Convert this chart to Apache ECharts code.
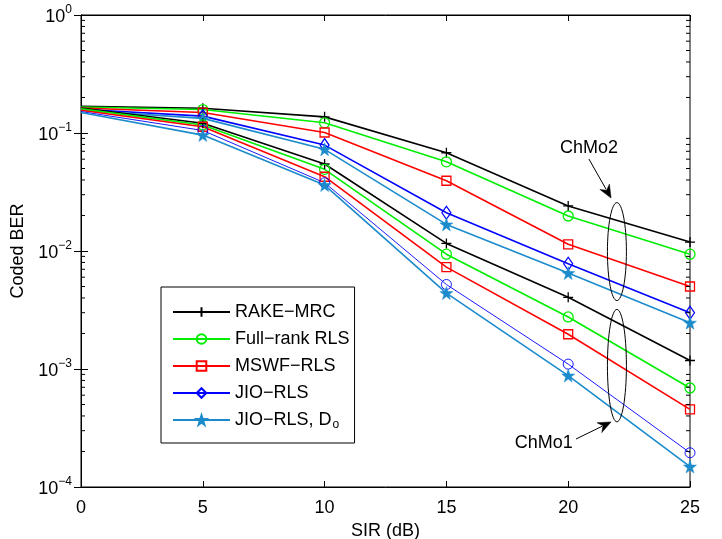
<!DOCTYPE html>
<html>
<head>
<meta charset="utf-8">
<script src="https://cdn.jsdelivr.net/npm/echarts@6/dist/echarts.min.js"></script>
<style>
html,body{margin:0;padding:0;background:#fff;}
#chart{width:722px;height:539px;}
</style>
</head>
<body>
<div id="chart"></div>
<script>
// ---- data ----
var sirDb = [0, 5, 10, 15, 20, 25];
var xTicks = [0, 5, 10, 15, 20, 25];
var yTickExponents = [0, -1, -2, -3, -4];

var seriesNames = ['RAKE\u2212MRC', 'Full\u2212rank RLS', 'MSWF\u2212RLS', 'JIO\u2212RLS', 'JIO\u2212RLS, D'];

// ChMo2 group
var rakeMrcChMo2  = [0.168, 0.162, 0.137, 0.068, 0.0241, 0.0119];
var fullRankChMo2 = [0.166, 0.158, 0.122, 0.057, 0.0198, 0.0094];
var mswfChMo2     = [0.163, 0.149, 0.101, 0.0394, 0.0114, 0.0050];
var jioChMo2      = [0.159, 0.139, 0.079, 0.0211, 0.0078, 0.0030];
var jioDoChMo2    = [0.156, 0.133, 0.0727, 0.0168, 0.0065, 0.00247];
// ChMo1 group
var rakeMrcChMo1  = [0.163, 0.121, 0.0546, 0.0116, 0.00405, 0.00118];
var fullRankChMo1 = [0.160, 0.117, 0.0492, 0.0094, 0.00276, 0.00069];
var mswfChMo1     = [0.156, 0.113, 0.0426, 0.0073, 0.00197, 0.000455];
var jioChMo1      = [0.152, 0.105, 0.0379, 0.0052, 0.0011, 0.000195];
var jioDoChMo1    = [0.149, 0.096, 0.0362, 0.0044, 0.00088, 0.000149];

// annotation anchors (data space)
var ellipseChMo2 = {x: 22, yTop: 0.0257, yBottom: 0.0038};
var ellipseChMo1 = {x: 22, yTop: 0.0032, yBottom: 0.000357};
var labelChMo2 = {text: 'ChMo2', x: 20.85, y: 0.0746};
var arrowChMo2 = {from: [20.85, 0.0602], to: [21.76, 0.0281]};
var labelChMo1 = {text: 'ChMo1', x: 19.0, y: 0.000235};
var arrowChMo1 = {from: [20.32, 0.000255], to: [21.76, 0.000356]};

// ---- styles ----
var FONT = 'Liberation Sans, Arial, Helvetica, sans-serif';
var FS = 18;
var C_BLACK = '#000000', C_GREEN = '#00ee00', C_RED = '#ff0000', C_BLUE = '#0000ff', C_STAR = '#1b8bcc';
var PLUS = 'path://M5,0L5,10M0,5L10,5';
var STAR = 'path://M50,0L61.8,35.1L98.5,35.1L68.8,56.9L79.4,91.1L50,70L20.6,91.1L31.2,56.9L1.5,35.1L38.2,35.1Z';

function mk(name, vals, color, symbol, size, lw, filled, symLw) {
  var data = vals.map(function (v, i) {
    var item = {value: [sirDb[i], v]};
    if (i === 0) item.symbol = 'none';
    return item;
  });
  return {
    type: 'line', name: name, data: data,
    symbol: symbol, symbolSize: size, showSymbol: true,
    lineStyle: {color: color, width: lw},
    itemStyle: {color: filled ? color : 'none', borderColor: color, borderWidth: symLw},
    emphasis: {disabled: true}, animation: false, clip: false, z: 3
  };
}

var LW = 1.6;
var series = [
  mk(seriesNames[0], rakeMrcChMo2, C_BLACK, PLUS, 10, LW, false, 1.3),
  mk(seriesNames[1], fullRankChMo2, C_GREEN, 'circle', 10, LW, false, 1.3),
  mk(seriesNames[2], mswfChMo2, C_RED, 'rect', 9, LW, false, 1.3),
  mk(seriesNames[3], jioChMo2, C_BLUE, 'diamond', [9, 13], LW, false, 1.3),
  mk(seriesNames[4], jioDoChMo2, C_STAR, STAR, 13, LW, true, 0.5),
  mk(seriesNames[0], rakeMrcChMo1, C_BLACK, PLUS, 10, LW, false, 1.3),
  mk(seriesNames[1], fullRankChMo1, C_GREEN, 'circle', 10, LW, false, 1.3),
  mk(seriesNames[2], mswfChMo1, C_RED, 'rect', 9, LW, false, 1.3),
  mk(seriesNames[3], jioChMo1, C_BLUE, 'circle', 10, 0.9, false, 0.9),
  mk(seriesNames[4], jioDoChMo1, C_STAR, STAR, 13, LW, true, 0.5)
];

// minor tick positions for the log axis (2..9 per decade)
var minorTickVals = [];
for (var e = -4; e < 0; e++) {
  for (var m = 2; m <= 9; m++) minorTickVals.push(m * Math.pow(10, e));
}
series.push({
  type: 'custom', name: 'minorTicks', silent: true, z: 4, clip: false,
  data: minorTickVals.map(function (v) { return [0, v]; }),
  renderItem: function (params, api) {
    var v = api.value(1);
    var pl = api.coord([0, v]);
    var pr = api.coord([25, v]);
    var st = {stroke: '#000', lineWidth: 1};
    return {type: 'group', children: [
      {type: 'line', shape: {x1: pl[0], y1: pl[1], x2: pl[0] + 4, y2: pl[1]}, style: st},
      {type: 'line', shape: {x1: pr[0], y1: pr[1], x2: pr[0] - 4, y2: pr[1]}, style: st}
    ]};
  }
});

function supLabel(v) {
  var ex = Math.round(Math.log10(v));
  var s = ex < 0 ? '\u2212' + (-ex) : '' + ex;
  return '{b|10}{s|' + s + '}';
}

var chart = echarts.init(document.getElementById('chart'), null, {renderer: 'canvas'});
var option = {
  backgroundColor: '#ffffff',
  animation: false,
  textStyle: {fontFamily: FONT, color: '#000'},
  grid: {left: 81, right: 32, top: 15, bottom: 52, show: true, borderColor: '#000', borderWidth: 1,
         backgroundColor: '#fff', containLabel: false, outerBoundsMode: 'none'},
  legend: {
    show: true, orient: 'vertical', left: 161, top: 287,
    data: seriesNames,
    backgroundColor: '#fff', borderColor: '#000', borderWidth: 1,
    padding: [16, 5, 12, 11],
    itemWidth: 57, itemHeight: 12, itemGap: 9,
    selectedMode: false,
    formatter: function (name) {
      if (name === seriesNames[4]) return '{t|' + name + '}{sub|o}';
      return '{t|' + name + '}';
    },
    textStyle: {
      fontFamily: FONT, fontSize: FS, color: '#000',
      rich: {
        t: {fontFamily: FONT, fontSize: FS, lineHeight: 22, color: '#000'},
        sub: {fontFamily: FONT, fontSize: 12, lineHeight: 10, verticalAlign: 'bottom', padding: [0, 0, 0, 1], color: '#000'}
      }
    }
  },
  xAxis: [{
    type: 'value', min: 0, max: 25, interval: 5, position: 'bottom',
    name: 'SIR (dB)', nameLocation: 'middle', nameGap: 30,
    nameTextStyle: {fontFamily: FONT, fontSize: FS, color: '#000'},
    axisLine: {show: true, lineStyle: {color: '#000', width: 1}},
    axisTick: {show: true, inside: true, length: 6, lineStyle: {color: '#000'}},
    axisLabel: {fontFamily: FONT, fontSize: FS, color: '#000', margin: 12, customValues: xTicks},
    splitLine: {show: false}
  }, {
    type: 'value', min: 0, max: 25, interval: 5, position: 'top',
    axisLine: {show: true, lineStyle: {color: '#000', width: 1}},
    axisTick: {show: true, inside: true, length: 6, lineStyle: {color: '#000'}},
    axisLabel: {show: false}, splitLine: {show: false}
  }],
  yAxis: [{
    type: 'log', logBase: 10, min: 1e-4, max: 1, position: 'left',
    name: 'Coded BER', nameLocation: 'middle', nameGap: 51,
    nameTextStyle: {fontFamily: FONT, fontSize: FS, color: '#000'},
    axisLine: {show: true, lineStyle: {color: '#000', width: 1}},
    axisTick: {show: true, inside: true, length: 7, lineStyle: {color: '#000'}},
    axisLabel: {
      margin: 9, formatter: supLabel,
      rich: {
        b: {fontFamily: FONT, fontSize: FS, lineHeight: 22, color: '#000', verticalAlign: 'bottom'},
        s: {fontFamily: FONT, fontSize: 12, lineHeight: 12, verticalAlign: 'top', color: '#000'}
      }
    },
    splitLine: {show: false}
  }, {
    type: 'log', logBase: 10, min: 1e-4, max: 1, position: 'right',
    axisLine: {show: true, lineStyle: {color: '#000', width: 1}},
    axisTick: {show: true, inside: true, length: 7, lineStyle: {color: '#000'}},
    axisLabel: {show: false}, splitLine: {show: false}
  }],
  series: series
};
chart.setOption(option);

// annotations, positioned through the axes
function px(p) { return chart.convertToPixel({xAxisIndex: 0, yAxisIndex: 0}, p); }
function ellipseGraphic(e) {
  var t = px([e.x, e.yTop]), b = px([e.x, e.yBottom]);
  return {type: 'ellipse', shape: {cx: t[0], cy: (t[1] + b[1]) / 2, rx: 9.5, ry: (b[1] - t[1]) / 2},
          style: {fill: 'none', stroke: '#000', lineWidth: 1}, z: 10};
}
function arrowGraphic(a) {
  var p0 = px(a.from), p1 = px(a.to);
  var dx = p1[0] - p0[0], dy = p1[1] - p0[1], L = Math.sqrt(dx * dx + dy * dy);
  var ux = dx / L, uy = dy / L, hl = 13, hw = 5.5;
  var bx = p1[0] - ux * hl, by = p1[1] - uy * hl;
  return [
    {type: 'line', shape: {x1: p0[0], y1: p0[1], x2: bx + ux * 3, y2: by + uy * 3}, style: {stroke: '#000', lineWidth: 1}, z: 10},
    {type: 'polygon', shape: {points: [[p1[0], p1[1]], [bx - uy * hw, by + ux * hw], [bx + ux * 4, by + uy * 4], [bx + uy * hw, by - ux * hw]]},
     style: {fill: '#000', stroke: '#000', lineWidth: 0.5}, z: 10}
  ];
}
function labelGraphic(l) {
  var p = px([l.x, l.y]);
  return {type: 'text', x: p[0], y: p[1], style: {text: l.text, font: FS + 'px ' + FONT, fill: '#000', align: 'center', verticalAlign: 'middle'}, z: 10};
}
var g = [ellipseGraphic(ellipseChMo2), ellipseGraphic(ellipseChMo1), labelGraphic(labelChMo2), labelGraphic(labelChMo1)]
  .concat(arrowGraphic(arrowChMo2)).concat(arrowGraphic(arrowChMo1));
chart.setOption({graphic: g});
</script>
</body>
</html>
